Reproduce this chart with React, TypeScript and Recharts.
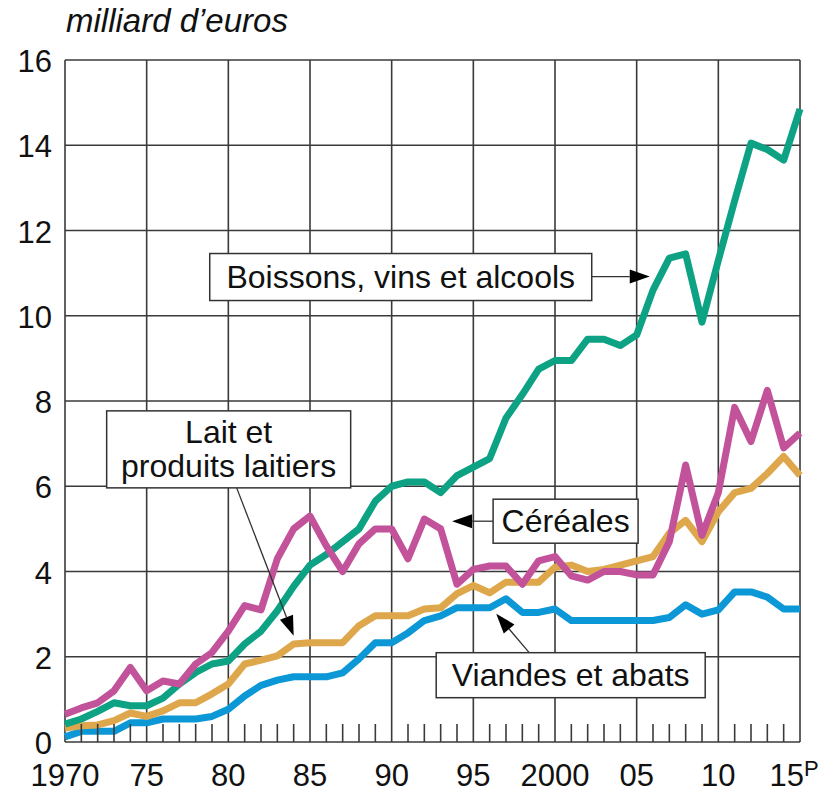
// @ts-nocheck
import React from 'react';
import { LineChart, Line, XAxis, YAxis, CartesianGrid, ReferenceDot } from 'recharts';

const YEARS = [
  1970, 1971, 1972, 1973, 1974, 1975, 1976, 1977, 1978, 1979,
  1980, 1981, 1982, 1983, 1984, 1985, 1986, 1987, 1988, 1989,
  1990, 1991, 1992, 1993, 1994, 1995, 1996, 1997, 1998, 1999,
  2000, 2001, 2002, 2003, 2004, 2005, 2006, 2007, 2008, 2009,
  2010, 2011, 2012, 2013, 2014, 2015,
];

// milliard d'euros
const BOISSONS = [
  0.42, 0.54, 0.72, 0.92, 0.85, 0.85, 1.03, 1.36, 1.63, 1.83,
  1.9, 2.3, 2.6, 3.08, 3.65, 4.15, 4.4, 4.7, 5.0, 5.65,
  6.0, 6.1, 6.1, 5.85, 6.25, 6.45, 6.65, 7.6, 8.15, 8.75,
  8.95, 8.95, 9.45, 9.45, 9.3, 9.55, 10.6, 11.35, 11.45, 9.85,
  11.3, 12.7, 14.05, 13.9, 13.65, 14.85,
];
const CEREALES = [
  0.65, 0.8, 0.92, 1.2, 1.75, 1.2, 1.43, 1.36, 1.83, 2.1,
  2.6, 3.2, 3.1, 4.3, 5.0, 5.3, 4.6, 4.0, 4.65, 5.0,
  5.0, 4.3, 5.23, 5.0, 3.7, 4.05, 4.13, 4.13, 3.7, 4.25,
  4.35, 3.9, 3.8, 4.0, 4.0, 3.92, 3.92, 4.7, 6.5, 4.85,
  5.85, 7.85, 7.05, 8.25, 6.9, 7.25,
];
const LAIT = [
  0.33, 0.38, 0.4, 0.5, 0.68, 0.6, 0.73, 0.92, 0.92, 1.13,
  1.36, 1.83, 1.92, 2.02, 2.3, 2.33, 2.33, 2.33, 2.73, 2.96,
  2.96, 2.96, 3.12, 3.15, 3.48, 3.67, 3.5, 3.75, 3.75, 3.75,
  4.1, 4.15, 4.0, 4.05, 4.15, 4.25, 4.35, 4.9, 5.2, 4.7,
  5.4, 5.85, 5.95, 6.3, 6.7, 6.25,
];
const VIANDES = [
  0.12, 0.25, 0.25, 0.25, 0.45, 0.45, 0.54, 0.54, 0.54, 0.6,
  0.77, 1.08, 1.33, 1.45, 1.53, 1.53, 1.53, 1.62, 1.95, 2.33,
  2.33, 2.56, 2.85, 2.96, 3.15, 3.15, 3.15, 3.36, 3.04, 3.04,
  3.12, 2.85, 2.85, 2.85, 2.85, 2.85, 2.85, 2.92, 3.22, 3.0,
  3.1, 3.52, 3.52, 3.4, 3.12, 3.12,
];

const Y_TICKS = [0, 2, 4, 6, 8, 10, 12, 14, 16];
const X_MAJOR = [1970, 1975, 1980, 1985, 1990, 1995, 2000, 2005, 2010, 2015];
const X_LABELS = ['1970', '75', '80', '85', '90', '95', '2000', '05', '10', '15'];
const X_MINOR = YEARS.filter((y) => y % 5 !== 0);

const SERIES = [
  { key: 'viandes', color: '#0C98D6' },
  { key: 'lait', color: '#DFA74B' },
  { key: 'boissons', color: '#0DA284' },
  { key: 'cereales', color: '#C2529A' },
];

// callouts: arrow tip in data units, box + arrow start as offsets (px) from the tip
const NOTES = [
  { year: 2005.8, value: 10.92, box: [-440, -23, 382, 47], from: [-58, 0], lines: ['Boissons, vins et alcools'] },
  { year: 1993.7, value: 5.18, box: [41, -22, 145, 44], from: [41, 0], lines: ['Céréales'] },
  { year: 1996.4, value: 3.01, box: [-60, 39, 269, 45], from: [33, 39], lines: ['Viandes et abats'] },
  { year: 1984.0, value: 2.49, box: [-187, -225, 244, 77], from: [-57, -148], lines: ['Lait et', 'produits laitiers'] },
];

const FONT = '"Liberation Sans", Arial, sans-serif';
const GRID = '#3a3a3a';

const data = YEARS.map((year, i) => ({
  year,
  boissons: BOISSONS[i],
  cereales: CEREALES[i],
  lait: LAIT[i],
  viandes: VIANDES[i],
}));

function YTick({ x, y, payload }) {
  return (
    <text x={x} y={y + 12} textAnchor="end" fontSize={31} fontFamily={FONT} fill="#111">
      {payload.value}
    </text>
  );
}

function XTick({ x, y, payload }) {
  const idx = X_MAJOR.indexOf(payload.value);
  const label = X_LABELS[idx];
  if (payload.value === 2015) {
    return (
      <text x={x - 6} y={y + 44} textAnchor="middle" fontSize={31} fontFamily={FONT} fill="#111">
        <tspan>{label}</tspan>
        <tspan fontSize={22} dy={-10}>P</tspan>
      </text>
    );
  }
  return (
    <text x={x} y={y + 44} textAnchor="middle" fontSize={31} fontFamily={FONT} fill="#111">
      {label}
    </text>
  );
}

function Callout({ cx, cy, note }) {
  if (cx == null || cy == null) return null;
  const [bx, by, bw, bh] = note.box;
  const sx = cx + note.from[0];
  const sy = cy + note.from[1];
  const ang = Math.atan2(cy - sy, cx - sx);
  const len = 20;
  const half = 7;
  const baseX = cx - len * Math.cos(ang);
  const baseY = cy - len * Math.sin(ang);
  const px = -Math.sin(ang) * half;
  const py = Math.cos(ang) * half;
  const midX = cx + bx + bw / 2;
  const lineH = 34;
  const firstBase = cy + by + bh / 2 + 11 - ((note.lines.length - 1) * lineH) / 2;
  return (
    <g>
      <line x1={sx} y1={sy} x2={baseX} y2={baseY} stroke="#333" strokeWidth={1.3} />
      <polygon points={`${cx},${cy} ${baseX + px},${baseY + py} ${baseX - px},${baseY - py}`} fill="#000" />
      <rect x={cx + bx} y={cy + by} width={bw} height={bh} fill="#fff" stroke="#333" strokeWidth={1.5} />
      {note.lines.map((t, i) => (
        <text key={t} x={midX} y={firstBase + i * lineH} textAnchor="middle" fontSize={32} fontFamily={FONT} fill="#111">
          {t}
        </text>
      ))}
    </g>
  );
}

function NoLabel() {
  return <g />;
}

export default function App() {
  return (
    <div style={{ position: 'absolute', left: 0, top: 0, width: 830, height: 793, background: '#fff' }}>
      <div style={{ position: 'absolute', left: 66, top: 2, fontFamily: FONT, fontStyle: 'italic', fontSize: 33, color: '#111' }}>
        milliard d’euros
      </div>
      <LineChart width={830} height={793} data={data} margin={{ top: 60, right: 30, bottom: 0, left: 0 }}>
        <CartesianGrid stroke={GRID} strokeWidth={1.6} />
        <XAxis
          xAxisId="minor"
          dataKey="year"
          type="number"
          domain={[1970, 2015]}
          ticks={X_MINOR}
          interval={0}
          height={1}
          mirror
          axisLine={false}
          tick={<NoLabel />}
          tickSize={18}
          tickLine={{ stroke: GRID, strokeWidth: 1.6 }}
        />
        <XAxis
          dataKey="year"
          type="number"
          domain={[1970, 2015]}
          ticks={X_MAJOR}
          interval={0}
          height={51}
          axisLine={false}
          tickLine={false}
          tickSize={0}
          tickMargin={0}
          tick={<XTick />}
        />
        <YAxis
          type="number"
          domain={[0, 16]}
          ticks={Y_TICKS}
          interval={0}
          width={65}
          axisLine={false}
          tickLine={false}
          tickSize={0}
          tickMargin={13}
          tick={<YTick />}
        />
        {SERIES.map((s) => (
          <Line
            key={s.key}
            dataKey={s.key}
            stroke={s.color}
            strokeWidth={7}
            dot={false}
            strokeLinejoin="round"
            isAnimationActive={false}
          />
        ))}
        {NOTES.map((n) => (
          <ReferenceDot
            key={n.lines[0]}
            x={n.year}
            y={n.value}
            r={0}
            ifOverflow="visible"
            shape={(props) => <Callout {...props} note={n} />}
          />
        ))}
      </LineChart>
    </div>
  );
}
